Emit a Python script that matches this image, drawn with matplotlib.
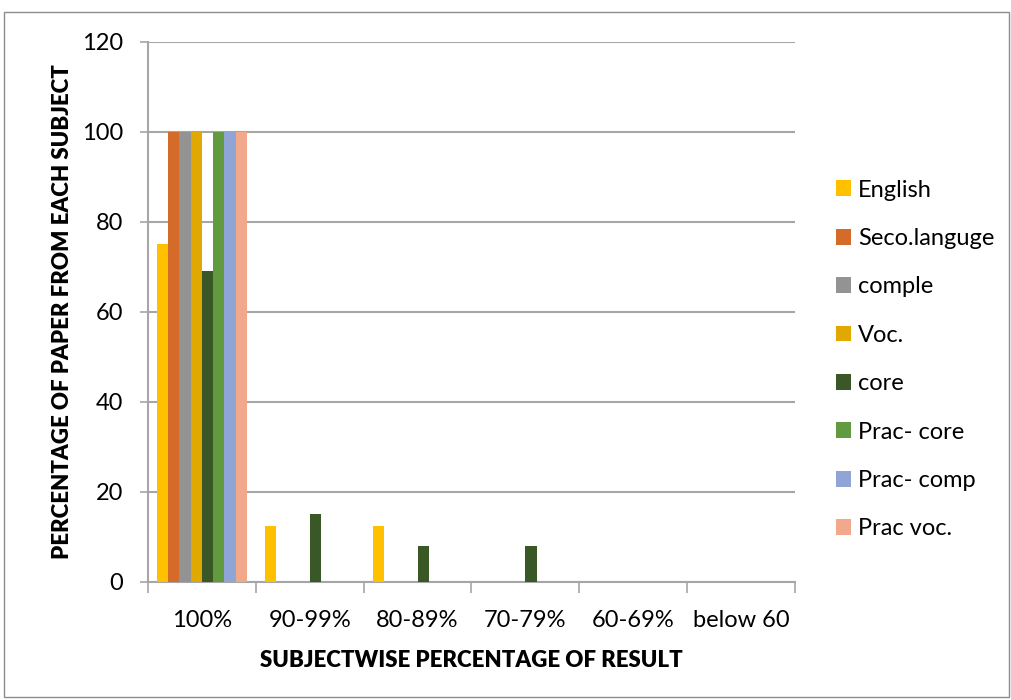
import numpy as np
import matplotlib.pyplot as plt
from matplotlib.patches import Rectangle

categories = ['100%', '90-99%', '80-89%', '70-79%', '60-69%', 'below 60']
subjects = ['English', 'Seco.languge', 'comple', 'Voc.', 'core', 'Prac- core', 'Prac- comp', 'Prac voc.']
english = [75, 12.5, 12.5, 0, 0, 0]
seco_language = [100, 0, 0, 0, 0, 0]
comple = [100, 0, 0, 0, 0, 0]
voc = [100, 0, 0, 0, 0, 0]
core = [69, 15, 8, 8, 0, 0]
prac_core = [100, 0, 0, 0, 0, 0]
prac_comp = [100, 0, 0, 0, 0, 0]
prac_voc = [100, 0, 0, 0, 0, 0]
series = [english, seco_language, comple, voc, core, prac_core, prac_comp, prac_voc]
colors = ['#FFC000', '#D46B29', '#939393', '#E0A800', '#3A5726', '#629B3F', '#8FA5D5', '#F2A88A']

plt.rcParams['font.family'] = ['Lato', 'DejaVu Sans']

fig = plt.figure(figsize=(10.12, 7.0), dpi=100)
ax = fig.add_axes([0.1462, 0.1686, 0.6394, 0.7714])

# outer chart border
fig.patches.append(Rectangle((0.004, 0.004), 0.993, 0.979, transform=fig.transFigure,
                             fill=False, edgecolor='#8C8C8C', linewidth=1))

x = np.arange(len(categories))
w = 0.104
for j, (vals, c, name) in enumerate(zip(series, colors, subjects)):
    ax.bar(x + (j - 3.5) * w, vals, width=w, color=c, label=name, zorder=3)

ax.set_xlim(-0.5, len(categories) - 0.5)
ax.set_ylim(0, 120)
ax.set_yticks(range(0, 121, 20))
ax.yaxis.grid(True, color='#A6A6A6', linewidth=1.5, zorder=0)

# category boundaries as ticks, labels centred between them
ax.set_xticks(np.arange(-0.5, len(categories), 1))
ax.set_xticklabels([])
ax.set_xticks(x, minor=True)
ax.set_xticklabels(categories, minor=True, fontsize=17)
ax.tick_params(axis='x', which='major', length=8, color='#A6A6A6', width=1.2)
ax.tick_params(axis='x', which='minor', length=0, pad=20)
ax.tick_params(axis='y', length=6, color='#A6A6A6', width=1.2, labelsize=17, pad=12)

for s in ['top', 'right']:
    ax.spines[s].set_visible(False)
for s in ['left', 'bottom']:
    ax.spines[s].set_color('#A6A6A6')
    ax.spines[s].set_linewidth(1.5)

ax.set_xlabel('SUBJECTWISE PERCENTAGE OF RESULT', fontsize=16, fontweight='heavy', labelpad=14)
ax.set_ylabel('PERCENTAGE OF PAPER FROM EACH SUBJECT', fontsize=16, fontweight='heavy', labelpad=6)

ax.legend(loc='center left', bbox_to_anchor=(1.03, 0.412), frameon=False, fontsize=17,
          handlelength=0.65, handleheight=0.65, handletextpad=0.3, labelspacing=1.16)

fig.savefig('out.png', dpi=100)
